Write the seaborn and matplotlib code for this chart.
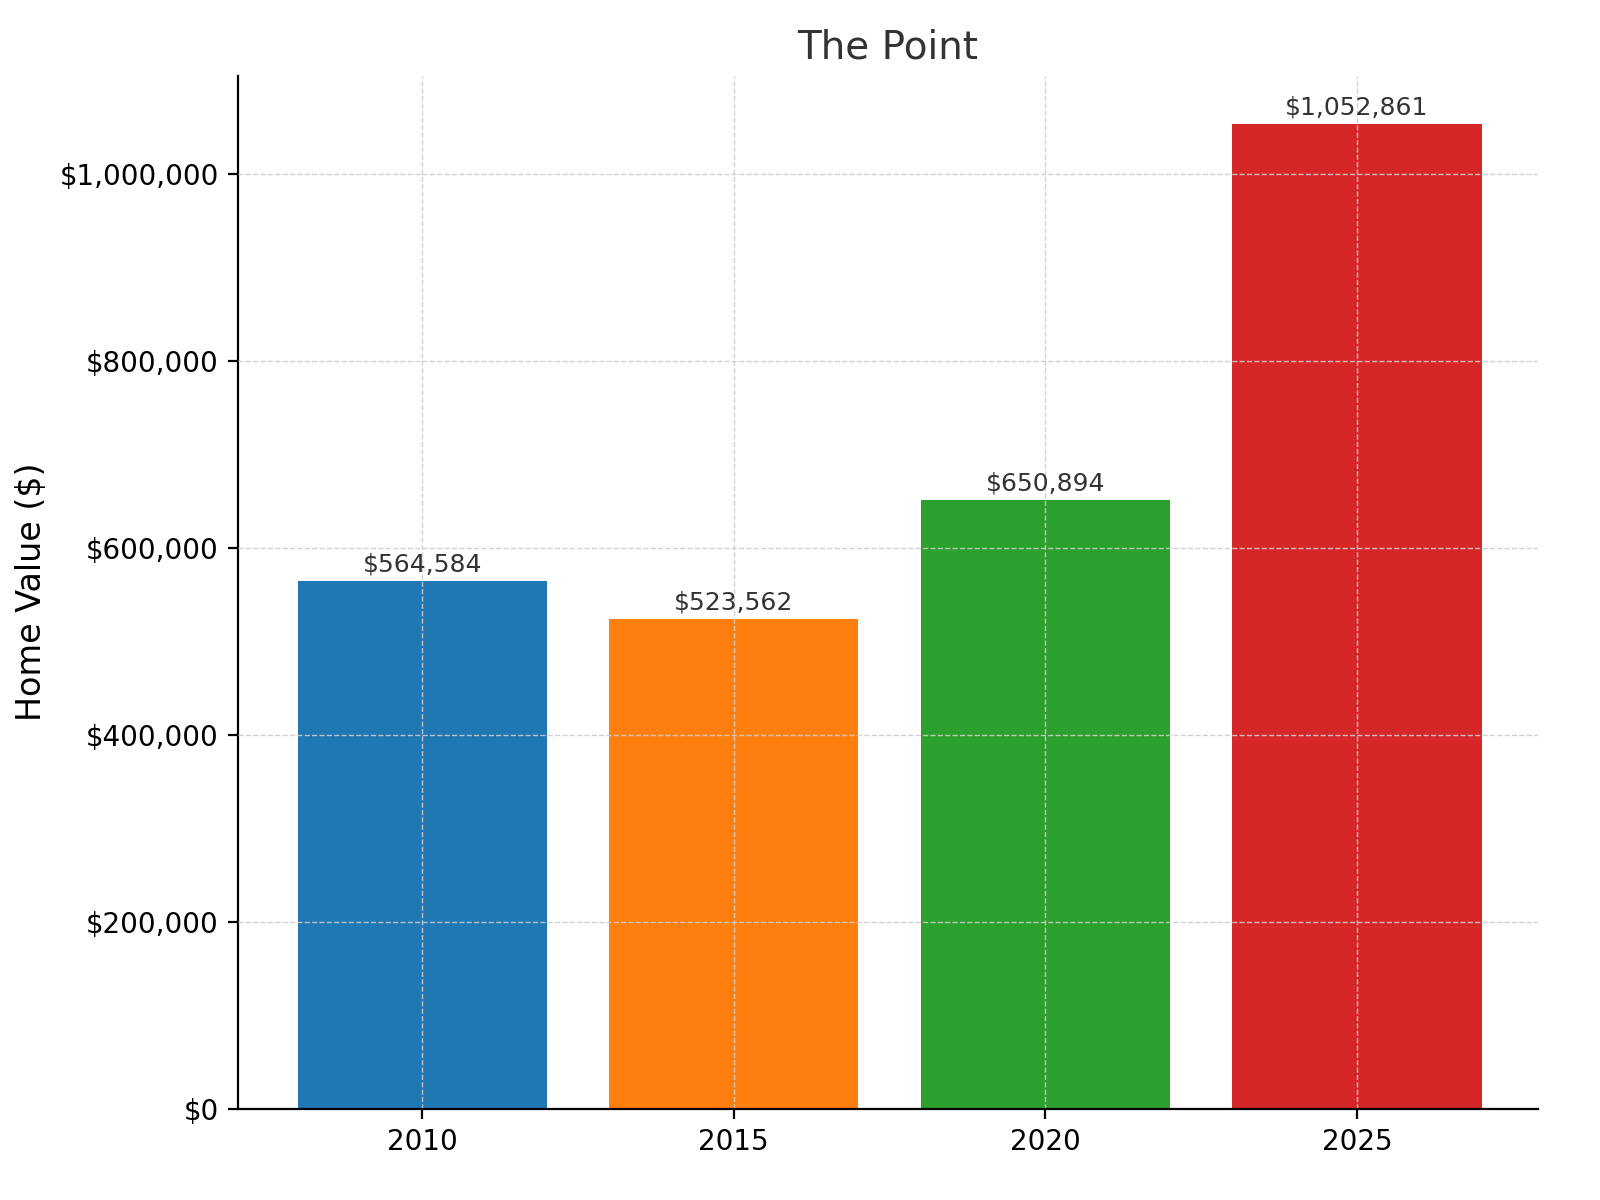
import matplotlib
matplotlib.use("Agg")
import matplotlib.pyplot as plt
import seaborn as sb
import pandas as pd
from matplotlib.ticker import FuncFormatter

years = ["2010", "2015", "2020", "2025"]
values = [564584, 523562, 650894, 1052861]
colors = ["#1f77b4", "#ff7f0e", "#2ca02c", "#d62728"]

df = pd.DataFrame({"Year": years, "Value": values})

fig, ax = plt.subplots(figsize=(8, 6), dpi=200)
sb.barplot(data=df, x="Year", y="Value", hue="Year", palette=colors,
           width=0.8, saturation=1, legend=False, ax=ax)

for i, v in enumerate(values):
    ax.text(i, v + 5000, f"${v:,.0f}", ha="center", va="bottom", fontsize=9, color="#333333")

ax.set_title("The Point", fontsize=14, color="#333333")
ax.set_xlabel("")
ax.set_ylabel("Home Value ($)", fontsize=12)
ax.yaxis.set_major_formatter(FuncFormatter(lambda x, p: f"${x:,.0f}"))
ax.set_ylim(0, 1105000)
ax.set_xlim(-0.59, 3.58)
ax.set_axisbelow(False)
ax.grid(True, linestyle="--", linewidth=0.5, color="#cccccc", alpha=0.9)
ax.spines["top"].set_visible(False)
ax.spines["right"].set_visible(False)
ax.spines["bottom"].set_zorder(5)
ax.tick_params(labelsize=10)

fig.subplots_adjust(left=0.149, right=0.961, top=0.937, bottom=0.076)
fig.savefig("out.png")
